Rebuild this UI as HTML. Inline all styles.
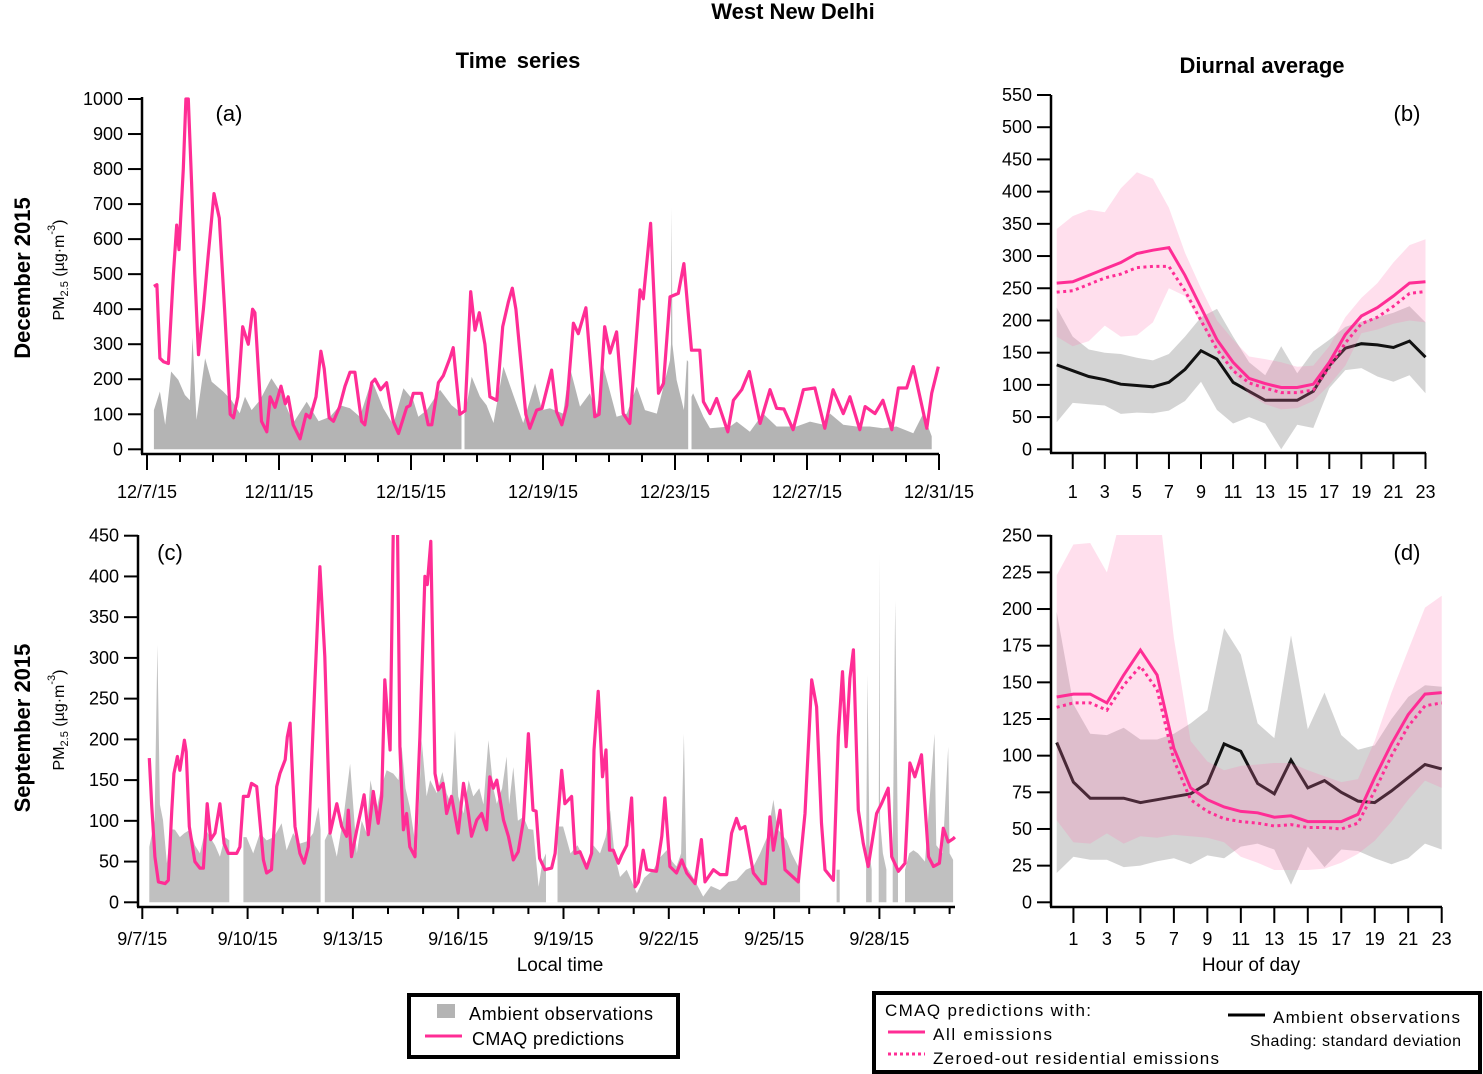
<!DOCTYPE html>
<html><head><meta charset="utf-8"><title>West New Delhi PM2.5</title>
<style>
html,body{margin:0;padding:0;background:#fff;}
svg{display:block;font-family:"Liberation Sans",sans-serif;}
</style></head>
<body>
<svg id="fig" width="1483" height="1074" viewBox="0 0 1483 1074" xmlns="http://www.w3.org/2000/svg">
<defs>
<clipPath id="clipA"><rect x="142" y="97" width="800" height="357"/></clipPath>
<clipPath id="clipC"><rect x="138" y="535" width="820" height="372"/></clipPath>
<clipPath id="clipB"><rect x="1051" y="95" width="380" height="358"/></clipPath>
<clipPath id="clipD"><rect x="1051" y="535" width="395" height="372"/></clipPath>
</defs>
<text x="793" y="19" text-anchor="middle" font-size="22" font-weight="bold">West New Delhi</text>
<text x="518" y="68" text-anchor="middle" font-size="22" font-weight="bold" word-spacing="4">Time series</text>
<text x="1262" y="73" text-anchor="middle" font-size="22" font-weight="bold">Diurnal average</text>
<text transform="translate(30,278) rotate(-90)" text-anchor="middle" font-size="22" font-weight="bold">December 2015</text>
<text transform="translate(30,728) rotate(-90)" text-anchor="middle" font-size="22" font-weight="bold">September 2015</text>
<text transform="translate(64,270) rotate(-90)" text-anchor="middle" font-size="16">PM<tspan font-size="11" dy="4">2.5</tspan><tspan dy="-4"> (µg·m</tspan><tspan font-size="11" dy="-9">-3</tspan><tspan dy="9">)</tspan></text>
<text transform="translate(64,720) rotate(-90)" text-anchor="middle" font-size="16">PM<tspan font-size="11" dy="4">2.5</tspan><tspan dy="-4"> (µg·m</tspan><tspan font-size="11" dy="-9">-3</tspan><tspan dy="9">)</tspan></text>
<text x="560" y="971" text-anchor="middle" font-size="19">Local time</text>
<text x="1251" y="971" text-anchor="middle" font-size="19">Hour of day</text>
<g id="plots"></g>
<g>
<rect x="409" y="995" width="269" height="62" fill="#fff" stroke="#000" stroke-width="4"/>
<rect x="437" y="1004" width="18" height="14" fill="#b4b4b4"/>
<text x="469" y="1020" font-size="18" textLength="184">Ambient observations</text>
<line x1="425" y1="1036" x2="462" y2="1036" stroke="#ff2d95" stroke-width="3"/>
<text x="472" y="1045" font-size="18" textLength="152">CMAQ predictions</text>
</g>
<g>
<rect x="874" y="993" width="606" height="79" fill="#fff" stroke="#000" stroke-width="4"/>
<text x="885" y="1016" font-size="17" textLength="206">CMAQ predictions with:</text>
<line x1="888" y1="1032" x2="925" y2="1032" stroke="#ff2d95" stroke-width="3"/>
<text x="933" y="1040" font-size="17" textLength="119">All emissions</text>
<line x1="888" y1="1054" x2="925" y2="1054" stroke="#ff2d95" stroke-width="3" stroke-dasharray="3,3"/>
<text x="933" y="1064" font-size="17" textLength="286">Zeroed-out residential emissions</text>
<line x1="1228" y1="1015" x2="1265" y2="1015" stroke="#000" stroke-width="3"/>
<text x="1273" y="1023" font-size="17" textLength="187">Ambient observations</text>
<text x="1250" y="1046" font-size="16" textLength="211">Shading: standard deviation</text>
</g>
</svg>
<script>
const decModelT = [0.21,0.3,0.39,0.5,0.65,0.8,0.9,0.97,1.1,1.18,1.25,1.35,1.45,1.56,1.71,1.85,2.03,2.19,2.35,2.52,2.62,2.75,2.9,3.0,3.07,3.2,3.27,3.47,3.63,3.73,3.88,4.06,4.19,4.28,4.43,4.64,4.82,4.94,5.12,5.27,5.37,5.52,5.65,5.83,6.0,6.15,6.3,6.5,6.6,6.81,6.91,7.08,7.26,7.46,7.62,7.87,7.97,8.07,8.32,8.52,8.63,8.83,8.98,9.18,9.28,9.48,9.64,9.81,9.94,10.07,10.24,10.39,10.6,10.78,10.95,11.07,11.18,11.48,11.6,11.81,11.97,12.26,12.41,12.57,12.72,12.92,13.07,13.3,13.57,13.7,13.87,14.03,14.23,14.43,14.63,14.94,15.04,15.26,15.5,15.65,15.85,16.1,16.27,16.5,16.75,16.86,17.06,17.26,17.6,17.77,18.02,18.25,18.58,18.88,19.08,19.3,19.58,19.89,20.24,20.54,20.79,21.1,21.3,21.6,21.76,22.06,22.3,22.57,22.77,23.02,23.22,23.63,23.78,23.98];
const decModelV = [465,470,260,250,245,500,640,570,800,1000,1000,760,500,270,400,550,730,660,400,100,90,150,350,320,300,400,390,80,50,150,120,180,130,150,70,30,100,90,150,280,230,90,80,120,180,220,220,80,70,190,200,170,190,80,45,120,125,160,160,70,70,190,210,260,290,100,110,450,340,390,300,150,140,350,420,460,400,100,60,112,117,226,108,70,125,360,330,404,93,100,350,275,335,102,74,455,430,645,160,188,435,445,530,283,283,136,102,145,50,140,170,222,74,170,117,115,56,170,175,60,170,102,150,56,122,102,140,56,175,175,236,60,160,236];
const decObsT = [0.21,0.39,0.55,0.73,0.95,1.15,1.3,1.38,1.5,1.76,1.96,2.31,2.56,2.81,2.97,3.17,3.42,3.77,4.03,4.43,4.84,5.2,5.55,5.85,6.15,6.45,6.81,7.16,7.46,7.77,8.07,8.22,8.48,8.88,9.23,9.53,null,9.62,9.64,9.84,10.09,10.29,10.5,10.8,11.1,11.4,11.76,11.97,12.21,12.61,12.81,13.12,13.42,13.62,13.83,14.23,14.54,14.84,15.09,15.45,15.85,15.88,15.9,15.92,16.05,16.27,16.36,16.4,null,16.5,16.55,16.86,17.06,17.67,17.87,18.27,18.67,19.08,19.68,20.09,20.5,20.7,21.1,21.5,21.9,22.3,22.71,23.22,23.52,23.78];
const decObsV = [112,165,70,222,198,155,140,320,84,260,193,165,140,103,150,112,140,203,165,75,136,80,93,126,117,93,198,117,70,174,140,93,112,170,126,103,null,100,103,207,150,126,75,236,155,75,188,112,117,102,236,122,160,102,236,93,102,179,112,102,255,300,690,300,198,112,255,250,null,150,160,93,60,65,79,50,102,65,65,79,70,102,70,65,65,60,65,46,102,37];
const decDayTicks = [0,1,2,3,4,5,6,7,8,9,10,11,12,13,14,15,16,17,18,19,20,21,22,23,24];
const decDateLabels = ["12/7/15","12/11/15","12/15/15","12/19/15","12/23/15","12/27/15","12/31/15"];
const decYTicks = [0,100,200,300,400,500,600,700,800,900,1000];

const sepModelT = [0.2,0.27,0.36,0.46,0.65,0.74,0.84,0.9,1.0,1.07,1.2,1.25,1.34,1.5,1.64,1.74,1.85,1.95,2.07,2.21,2.33,2.45,2.69,2.78,2.88,3.02,3.11,3.26,3.45,3.54,3.68,3.83,3.92,4.07,4.13,4.21,4.35,4.49,4.61,4.73,4.92,5.06,5.2,5.35,5.54,5.68,5.82,5.87,5.96,6.11,6.25,6.32,6.44,6.58,6.72,6.82,6.91,7.06,7.15,7.27,7.34,7.44,7.53,7.62,7.77,7.91,8.05,8.12,8.22,8.34,8.43,8.57,8.67,8.81,9.0,9.15,9.29,9.38,9.53,9.67,9.81,9.9,10.0,10.1,10.29,10.43,10.57,10.71,10.86,11.0,11.13,11.22,11.32,11.47,11.66,11.76,11.95,12.04,12.23,12.33,12.47,12.66,12.8,12.87,12.99,13.11,13.21,13.31,13.42,13.56,13.66,13.8,13.94,14.04,14.13,14.27,14.37,14.65,14.8,14.89,15.03,15.22,15.37,15.51,15.75,15.93,16.03,16.27,16.46,16.65,16.79,16.93,17.03,17.17,17.41,17.65,17.75,17.88,17.98,18.17,18.31,18.69,18.88,19.07,19.21,19.35,19.45,19.69,19.83,19.95,20.05,20.16,20.26,20.4,20.54,20.68,20.92,21.06,21.25,21.35,21.54,21.73,21.87,22.01,22.2,22.4,22.54,22.71,22.82,22.96,23.1,23.15];
const sepModelV = [177,117,56,25,23,27,113,158,179,162,199,185,93,50,42,42,121,77,85,121,72,60,60,68,130,130,146,142,52,36,40,142,158,175,203,220,93,60,48,68,273,412,302,85,121,93,81,113,56,89,117,132,83,136,97,130,273,187,460,460,191,89,109,68,56,203,400,390,443,158,138,146,109,130,85,146,109,81,101,109,89,154,140,150,101,81,52,62,101,207,113,112,54,40,42,60,162,121,130,60,62,42,60,187,259,154,187,64,64,48,58,70,128,19,25,64,40,38,81,128,44,36,52,36,23,77,25,40,34,34,85,103,90,93,36,23,23,105,64,113,40,25,109,273,240,97,40,27,203,283,191,275,310,113,72,44,109,121,140,56,38,48,171,154,181,56,44,48,91,74,78,80];
const sepObsT = [0.2,0.35,0.43,0.5,0.59,0.7,0.8,0.93,1.07,1.2,1.36,1.5,1.64,1.8,1.93,2.07,2.21,2.35,2.48,null,2.88,2.97,3.16,3.35,3.54,3.75,3.97,4.11,4.3,4.49,4.7,4.87,5.02,5.08,null,5.2,5.35,5.54,5.75,5.92,6.11,6.25,6.39,6.5,6.67,6.8,6.96,7.15,7.3,7.39,7.5,7.62,7.82,7.96,8.1,8.2,8.39,8.55,8.67,8.8,8.91,9.0,9.15,9.3,9.43,9.6,9.72,9.86,10.0,10.1,10.25,10.38,10.45,10.57,10.7,10.86,11.0,11.14,11.29,11.4,11.5,null,11.83,11.99,12.2,12.4,12.66,12.85,13.04,13.2,13.33,13.45,13.61,13.8,14.09,14.3,14.56,14.75,14.94,15.1,15.22,15.35,15.43,15.5,15.7,15.98,16.2,16.46,16.7,16.93,17.2,17.41,17.6,17.8,17.98,18.1,18.36,18.5,18.64,18.74,null,19.78,19.87,null,20.62,20.66,20.72,20.78,null,20.98,21.0,21.02,21.1,21.2,null,21.38,21.45,21.53,null,21.73,21.85,21.97,22.1,22.3,22.57,22.62,22.8,22.96,23.0,23.1];
const sepObsV = [68,100,316,120,101,48,90,89,80,85,89,70,60,90,80,70,56,80,76,null,80,80,60,85,76,80,97,64,85,72,75,85,117,89,null,76,90,56,110,170,60,100,85,150,113,140,162,158,150,191,140,117,60,199,130,150,134,160,134,120,211,130,109,150,130,140,120,199,140,121,140,179,120,166,100,105,90,89,19,50,60,null,93,93,60,70,48,70,60,80,113,60,31,40,11,30,40,55,64,50,44,60,207,44,30,7,20,15,25,27,40,44,60,80,126,90,76,60,48,40,null,40,40,null,60,280,60,40,null,60,428,100,60,40,null,60,370,60,null,40,60,64,60,50,207,70,60,191,60,52];
const sepDayTicks = [0,1,2,3,4,5,6,7,8,9,10,11,12,13,14,15,16,17,18,19,20,21,22,23];
const sepDateLabels = ["9/7/15","9/10/15","9/13/15","9/16/15","9/19/15","9/22/15","9/25/15","9/28/15"];
const sepYTicks = [0,50,100,150,200,250,300,350,400,450];

const hours = [0,1,2,3,4,5,6,7,8,9,10,11,12,13,14,15,16,17,18,19,20,21,22,23];
const hourLabels = [1,3,5,7,9,11,13,15,17,19,21,23];
const decAllEm = [258,260,270,280,290,304,309,313,270,220,170,135,110,102,96,96,101,135,178,207,220,238,258,260];
const decZeroRes = [244,246,256,266,272,282,284,284,246,200,155,122,103,95,88,88,92,127,165,195,205,222,242,245];
const decObsMean = [131,122,113,108,101,99,97,104,124,153,140,104,90,76,76,76,90,130,157,164,162,158,168,143];
const decModelHi = [342,362,372,368,405,430,420,375,305,250,200,170,144,140,135,128,130,160,205,235,258,290,317,326];
const decModelLo = [175,160,168,192,175,177,197,250,238,195,155,120,85,70,62,64,75,100,130,180,186,195,200,197];
const decObsHi = [220,175,155,150,148,142,138,148,175,205,218,175,135,115,160,118,152,170,190,198,205,212,222,197];
const decObsLo = [42,72,70,68,55,57,56,60,75,105,61,40,50,40,0,38,33,95,123,126,113,105,115,87];
const decDiurnalYTicks = [0,50,100,150,200,250,300,350,400,450,500,550];

const sepAllEm = [140,142,142,136,155,172,155,105,78,70,65,62,61,58,59,55,55,55,60,85,108,128,142,143];
const sepZeroRes = [133,136,136,131,148,161,145,97,70,62,57,55,54,52,53,51,51,50,54,76,100,120,134,136];
const sepObsMean = [109,82,71,71,71,68,70,72,74,81,108,103,81,74,97,78,83,75,69,68,76,85,94,91];
const sepModelHi = [223,244,245,225,270,280,280,180,110,96,90,93,94,95,95,90,86,82,84,110,143,172,201,209];
const sepModelLo = [56,41,40,47,40,45,44,46,45,44,41,31,27,22,22,22,23,27,33,42,55,70,83,78];
const sepObsHi = [198,135,115,114,119,111,111,115,122,131,187,169,122,112,182,118,143,114,104,107,125,140,148,147];
const sepObsLo = [20,31,29,29,24,25,28,30,26,32,30,38,40,36,12,38,24,36,35,30,26,30,40,36];
const sepDiurnalYTicks = [0,25,50,75,100,125,150,175,200,225,250];

const NS = "http://www.w3.org/2000/svg";
const root = document.getElementById("plots");
const PINK = "#ff2d95";
function mk(tag, attrs, parent) {
  const e = document.createElementNS(NS, tag);
  for (const k in attrs) e.setAttribute(k, attrs[k]);
  (parent || root).appendChild(e);
  return e;
}
function lin(d0, d1, r0, r1) { return v => r0 + (v - d0) * (r1 - r0) / (d1 - d0); }

function axes(g, cfg) {
  const ya = mk("line", {x1: cfg.x0, y1: cfg.yTop, x2: cfg.x0, y2: cfg.yAxis, stroke: "#000", "stroke-width": 2.5}, g);
  
  
  const xa = mk("line", {x1: cfg.x0 - 1, y1: cfg.yAxis, x2: cfg.x1, y2: cfg.yAxis, stroke: "#000", "stroke-width": 2.5}, g);
  
  
  cfg.yTicks.forEach(v => {
    const y = cfg.ys(v);
    mk("line", {x1: cfg.x0 - 14, y1: y, x2: cfg.x0, y2: y, stroke: "#000", "stroke-width": 2}, g);
    const t = mk("text", {x: cfg.x0 - 19, y: y + 6, "text-anchor": "end", "font-size": 18}, g);
    t.textContent = v;
    
    
  });
}

function tsPanel(cfg) {
  const g = mk("g", {});
  
  
  const cg = mk("g", {"clip-path": "url(#" + cfg.clip + ")"}, g);
  let seg = [];
  const flush = () => {
    if (seg.length > 1) {
      let d = "M" + cfg.xs(seg[0][0]).toFixed(1) + "," + cfg.ys(0).toFixed(1);
      seg.forEach(p => d += "L" + cfg.xs(p[0]).toFixed(1) + "," + cfg.ys(p[1]).toFixed(1));
      d += "L" + cfg.xs(seg[seg.length - 1][0]).toFixed(1) + "," + cfg.ys(0).toFixed(1) + "Z";
      const a = mk("path", {d: d, fill: cfg.gray}, cg);
      
      
    }
    seg = [];
  };
  cfg.obsT.forEach((t, i) => {
    const v = cfg.obsV[i];
    if (t === null || v === null) flush(); else seg.push([t, v]);
  });
  flush();
  let d = "";
  cfg.modT.forEach((t, i) => { d += (i ? "L" : "M") + cfg.xs(t).toFixed(1) + "," + cfg.ys(cfg.modV[i]).toFixed(1); });
  const l = mk("path", {d: d, fill: "none", stroke: PINK, "stroke-width": 3.2, "stroke-linejoin": "round"}, cg);
  
  
  axes(g, cfg);
  cfg.dayTicks.forEach(dd => {
    const x = cfg.xs(dd);
    const major = dd % cfg.majorEvery === 0;
    mk("line", {x1: x, y1: cfg.yAxis, x2: x, y2: cfg.yAxis + (major ? cfg.majLen : cfg.minLen), stroke: "#000", "stroke-width": 2}, g);
    if (major) {
      const t = mk("text", {x: x, y: cfg.labelY, "text-anchor": "middle", "font-size": 18}, g);
      t.textContent = cfg.labels[dd / cfg.majorEvery];
      
      
    }
  });
  const pl = mk("text", {x: cfg.tagX, y: cfg.tagY, "text-anchor": "middle", "font-size": 22}, g);
  pl.textContent = cfg.tag;
  
  
}

function diurnalPanel(cfg) {
  const g = mk("g", {});
  
  
  const cg = mk("g", {"clip-path": "url(#" + cfg.clip + ")"}, g);
  const band = (hi, lo, fill, name) => {
    let d = "";
    hours.forEach((h, i) => d += (i ? "L" : "M") + cfg.xs(h).toFixed(1) + "," + cfg.ys(hi[i]).toFixed(1));
    for (let i = hours.length - 1; i >= 0; i--) d += "L" + cfg.xs(hours[i]).toFixed(1) + "," + cfg.ys(lo[i]).toFixed(1);
    const p = mk("path", {d: d + "Z", fill: fill}, cg);
    
    
  };
  const line = (vals, stroke, dash, name) => {
    let d = "";
    hours.forEach((h, i) => d += (i ? "L" : "M") + cfg.xs(h).toFixed(1) + "," + cfg.ys(vals[i]).toFixed(1));
    const p = mk("path", {d: d, fill: "none", stroke: stroke, "stroke-width": 3, "stroke-dasharray": dash}, cg);
    
    
  };
  band(cfg.obsHi, cfg.obsLo, "rgba(170,170,170,0.5)", 'observation-std-band');
  line(cfg.obs, "#111", "none", 'observation-mean-line');
  band(cfg.modHi, cfg.modLo, "rgba(255,120,180,0.24)", 'cmaq-std-band');
  line(cfg.zero, PINK, "3,3.5", 'zeroed-residential-line');
  line(cfg.all, PINK, "none", 'all-emissions-line');
  axes(g, cfg);
  hourLabels.forEach(h => {
    const x = cfg.xs(h);
    mk("line", {x1: x, y1: cfg.yAxis, x2: x, y2: cfg.yAxis + 16, stroke: "#000", "stroke-width": 2}, g);
    const t = mk("text", {x: x, y: cfg.labelY, "text-anchor": "middle", "font-size": 18}, g);
    t.textContent = h;
    
    
  });
  const pl = mk("text", {x: cfg.tagX, y: cfg.tagY, "text-anchor": "middle", "font-size": 22}, g);
  pl.textContent = cfg.tag;
  
  
}

tsPanel({id: "panel-a", clip: "clipA", xs: lin(0, 24, 147, 939), ys: lin(0, 1000, 449.3, 99),
  x0: 142, x1: 939, yTop: 97, yAxis: 454, yTicks: decYTicks, obsT: decObsT, obsV: decObsV,
  modT: decModelT, modV: decModelV, gray: "#b4b4b4", dayTicks: decDayTicks, majorEvery: 4,
  majLen: 16, minLen: 8, labels: decDateLabels, labelY: 498, tag: "(a)", tagX: 229, tagY: 121});
tsPanel({id: "panel-c", clip: "clipC", xs: lin(0, 21, 142.3, 879.4), ys: lin(0, 450, 902.3, 535.7),
  x0: 138, x1: 955, yTop: 535, yAxis: 907, yTicks: sepYTicks, obsT: sepObsT, obsV: sepObsV,
  modT: sepModelT, modV: sepModelV, gray: "#c0c0c0", dayTicks: sepDayTicks, majorEvery: 3,
  majLen: 12, minLen: 7, labels: sepDateLabels, labelY: 945, tag: "(c)", tagX: 170, tagY: 560});
diurnalPanel({id: "panel-b", clip: "clipB", xs: lin(0, 23, 1056.7, 1425.5), ys: lin(0, 550, 449.3, 95),
  x0: 1051, x1: 1426, yTop: 95, yAxis: 453, yTicks: decDiurnalYTicks, labelY: 498,
  all: decAllEm, zero: decZeroRes, obs: decObsMean, modHi: decModelHi, modLo: decModelLo,
  obsHi: decObsHi, obsLo: decObsLo, tag: "(b)", tagX: 1407, tagY: 121});
diurnalPanel({id: "panel-d", clip: "clipD", xs: lin(0, 23, 1056.7, 1441.7), ys: lin(0, 250, 902.3, 535.7),
  x0: 1051, x1: 1442, yTop: 535, yAxis: 907, yTicks: sepDiurnalYTicks, labelY: 945,
  all: sepAllEm, zero: sepZeroRes, obs: sepObsMean, modHi: sepModelHi, modLo: sepModelLo,
  obsHi: sepObsHi, obsLo: sepObsLo, tag: "(d)", tagX: 1407, tagY: 560});
</script>
</body></html>
